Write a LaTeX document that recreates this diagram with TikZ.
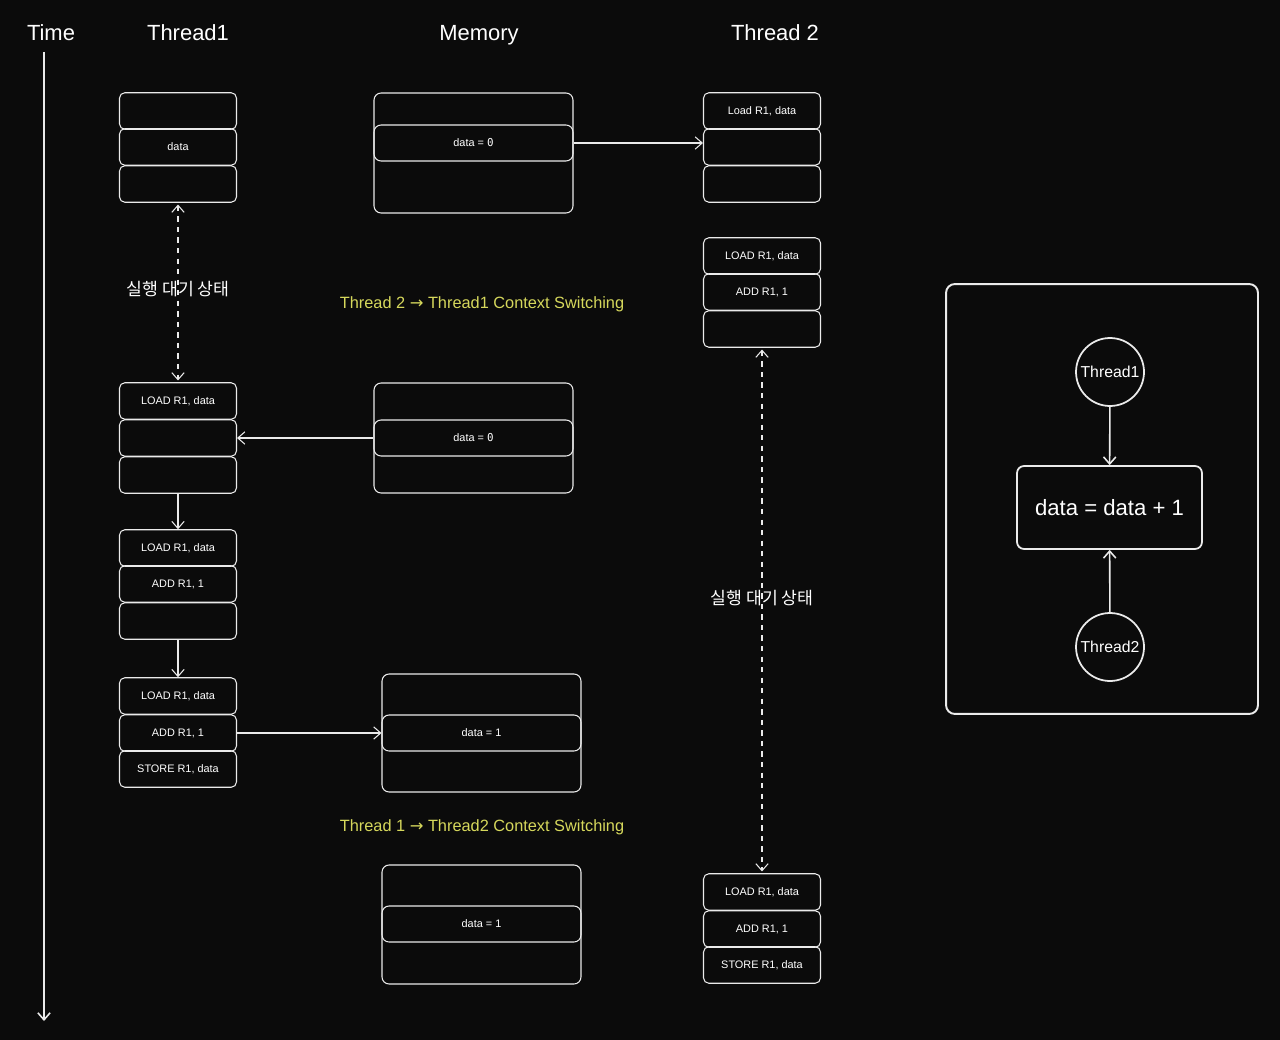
\documentclass[tikz,border=0pt]{standalone}
\usepackage{fontspec}
\setmainfont{Liberation Sans}
\newfontfamily\krfont{Noto Sans CJK KR}
\newfontfamily\codefont{DejaVu Sans Mono}
\newfontfamily\symfont{DejaVu Sans}
\usetikzlibrary{arrows.meta}
\definecolor{bg}{RGB}{11,11,11}
\definecolor{ink}{RGB}{235,235,235}
\definecolor{note}{RGB}{214,216,92}
\begin{document}
\begin{tikzpicture}[x=0.02cm,y=-0.02cm,color=ink,line width=0.6pt,
    arr/.style={-{Straight Barb[length=4pt,width=7pt]}},
    darr/.style={{Straight Barb[length=4pt,width=7pt]}-{Straight Barb[length=4pt,width=7pt]},dashed}]

      \fill[bg] (0,0) rectangle (1280,1040);
      \useasboundingbox (0,0) rectangle (1280,1040);

      % titles
      \begin{scope}[every node/.style={anchor=base,text=white,font=\fontsize{12.5}{14}\selectfont}]
        \node (time) at (51,41)  {Time};
        \node (th1)  at (188,41) {Thread1};
        \node (mem)  at (479,41) {Memory};
        \node (th2)  at (775,41) {Thread 2};
      \end{scope}
      \coordinate (tend) at (44,1021);
      \draw[arr,line width=0.9pt] (44,52) -- (tend);

      % thread cells
      \begin{scope}[every node/.style={draw=ink,rounded corners=3pt,line width=0.6pt,
          minimum width=2.34cm,minimum height=0.73cm,text=white,
          font=\fontsize{6.2}{7}\selectfont}]
        \node (a1) at (178,111) {};
        \node (a2) at (178,147) {data};
        \node (a3) at (178,184) {};
        \node (b1) at (178,401) {LOAD R1, data};
        \node (b2) at (178,438) {};
        \node (b3) at (178,475) {};
        \node (c1) at (178,548) {LOAD R1, data};
        \node (c2) at (178,584) {ADD R1, 1};
        \node (c3) at (178,621) {};
        \node (d1) at (178,696) {LOAD R1, data};
        \node (d2) at (178,733) {ADD R1, 1};
        \node (d3) at (178,769) {STORE R1, data};
        \node (u1) at (762,111) {Load R1, data};
        \node (u2) at (762,147) {};
        \node (u3) at (762,184) {};
        \node (v1) at (762,256) {LOAD R1, data};
        \node (v2) at (762,292) {ADD R1, 1};
        \node (v3) at (762,329) {};
        \node (w1) at (762,892) {LOAD R1, data};
        \node (w2) at (762,929) {ADD R1, 1};
        \node (w3) at (762,965) {STORE R1, data};
      \end{scope}

      % memory
      \begin{scope}[every node/.style={draw=ink,rounded corners=4pt,line width=0.6pt,
          minimum width=3.98cm,text=white,font=\fontsize{6.2}{7}\selectfont}]
        \node[minimum height=2.4cm]  (m1) at (473.5,153) {};
        \node[minimum height=0.72cm] (m1d) at (473.5,143) {data = {\codefont 0}};
        \node[minimum height=2.2cm]  (m2) at (473.5,438) {};
        \node[minimum height=0.72cm] (m2d) at (473.5,438) {data = {\codefont 0}};
        \node[minimum height=2.36cm] (m3) at (481.5,733) {};
        \node[minimum height=0.72cm] (m3d) at (481.5,733) {data = 1};
        \node[minimum height=2.38cm] (m4) at (481.5,924.5) {};
        \node[minimum height=0.72cm] (m4d) at (481.5,924) {data = 1};
      \end{scope}

      % notes
      \begin{scope}[every node/.style={text=white,font=\krfont\fontsize{9.8}{11}\selectfont}]
        \node (wait1) at (178,289) {실행 대기 상태};
        \node (wait2) at (762,598) {실행 대기 상태};
      \end{scope}
      \begin{scope}[every node/.style={text=note,font=\fontsize{9.3}{11}\selectfont}]
        \node (cs1) at (482,304) {Thread 2 {\symfont →} Thread1 Context Switching};
        \node (cs2) at (482,827) {Thread 1 {\symfont →} Thread2 Context Switching};
      \end{scope}

      \draw[arr] (m1d.east) -- (m1d.east -| u2.west);
      \draw[arr] (m2d.west) -- (b2.east);
      \draw[arr] (d2.east) -- (m3d.west);
      \draw[arr] (b3.south) -- (c1.north);
      \draw[arr] (c3.south) -- (d1.north);
      \draw[darr] ([yshift=-1pt]a3.south) -- ([yshift=1pt]b1.north);
      \draw[darr] ([yshift=-1pt]v3.south) -- ([yshift=1pt]w1.north);

      % summary panel
      \node[draw=ink,rounded corners=5pt,line width=1.1pt,minimum width=6.24cm,
        minimum height=8.6cm] (panel) at (1102,499) {};
      \begin{scope}[every node/.style={circle,draw=ink,line width=1pt,minimum size=1.36cm,
          inner sep=0pt,text=white,font=\fontsize{9}{10}\selectfont}]
        \node (p1) at (1110,372) {Thread1};
        \node (p2) at (1110,647) {Thread2};
      \end{scope}
      \node[draw=ink,rounded corners=4pt,line width=1pt,minimum width=3.7cm,
        minimum height=1.66cm,text=white,font=\fontsize{12.6}{15}\selectfont] (op) at (1109.5,507.5) {data = data + 1};
      \draw[arr,line width=0.9pt] (p1) -- (op);
      \draw[arr,line width=0.9pt] (p2) -- (op);

    \end{tikzpicture}
\end{document}
